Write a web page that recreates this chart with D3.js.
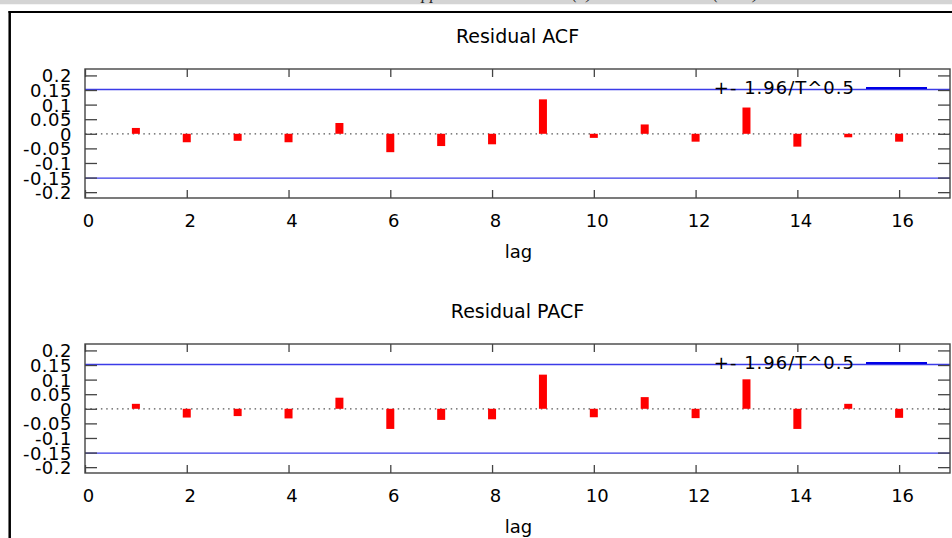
<!DOCTYPE html>
<html>
<head>
<meta charset="utf-8">
<script src="https://cdn.jsdelivr.net/npm/d3@7"></script>
<style>
    body { margin: 0; background: #fff; overflow: hidden; }
    svg { display: block; font-family: "DejaVu Sans", Verdana, sans-serif; }
</style>
</head>
<body>
<div class="chart"></div>
<script>
// Data
const lags = [1, 2, 3, 4, 5, 6, 7, 8, 9, 10, 11, 12, 13, 14, 15, 16];
const acfValues = [0.02, -0.029, -0.024, -0.029, 0.037, -0.063, -0.042, -0.036, 0.118, -0.014, 0.032, -0.027, 0.09, -0.044, -0.012, -0.027];
const pacfValues = [0.017, -0.03, -0.025, -0.033, 0.038, -0.069, -0.038, -0.036, 0.117, -0.029, 0.04, -0.032, 0.101, -0.069, 0.017, -0.031];
const xTicks = [0, 2, 4, 6, 8, 10, 12, 14, 16];
const yTicks = [0.2, 0.15, 0.1, 0.05, 0, -0.05, -0.1, -0.15, -0.2];
const confBand = 0.152;
const legendLabel = '+- 1.96/T^0.5';
const xLabel = 'lag';

// Layout
const W = 952, H = 538;
const plotLeft = 85, plotRight = 950, plotHeight = 129;
const panels = [
    {title: 'Residual ACF', values: acfValues, top: 69},
    {title: 'Residual PACF', values: pacfValues, top: 344}
];
const fontSize = 18;

const svg = d3.select('.chart')
    .append('svg')
    .attr('width', W)
    .attr('height', H);

svg.append('rect').attr('width', W).attr('height', H).attr('fill', '#fff');

// Window chrome: grey strip with the caption cut off above, black frame
svg.append('rect').attr('x', 0).attr('y', 0).attr('width', W).attr('height', 4.5).attr('fill', '#d4d4d4');
const caption = svg.append('g').attr('font-family', '"Liberation Serif", serif').attr('font-style', 'italic')
    .attr('font-size', 17).attr('fill', '#222');
caption.append('text').attr('x', 411).attr('y', -1.5).text('Appendix');
caption.append('text').attr('x', 572).attr('y', -1.5).text('(a)');
caption.append('text').attr('x', 713).attr('y', -1.5).text('(2020)');
svg.append('rect').attr('x', 0).attr('y', 4.5).attr('width', W).attr('height', 6).attr('fill', '#fff');
svg.append('line').attr('x1', 8.5).attr('x2', W).attr('y1', 12).attr('y2', 12)
    .attr('stroke', '#000').attr('stroke-width', 2);
svg.append('line').attr('x1', 9.7).attr('x2', 9.7).attr('y1', 11).attr('y2', H)
    .attr('stroke', '#000').attr('stroke-width', 2.5);

const xScale = d3.scaleLinear().domain([0, 17]).range([plotLeft, plotRight]);
const barWidth = 8;

function drawPanel(p) {
    const yScale = d3.scaleLinear()
        .domain([-0.22, 0.222])
        .range([p.top + plotHeight, p.top]);

    const g = svg.append('g').attr('class', 'panel');

    // Title
    g.append('text')
        .attr('x', (plotLeft + plotRight) / 2)
        .attr('y', p.top - 26)
        .attr('text-anchor', 'middle')
        .attr('font-size', 19)
        .attr('fill', '#000')
        .text(p.title);

    // Confidence lines
    g.selectAll('.band')
        .data([confBand, -confBand])
        .enter()
        .append('line')
        .attr('class', 'band')
        .attr('x1', plotLeft).attr('x2', plotRight)
        .attr('y1', d => yScale(d)).attr('y2', d => yScale(d))
        .attr('stroke', '#3b3be8')
        .attr('stroke-width', 1.4);

    // Zero line
    g.append('line')
        .attr('x1', plotLeft).attr('x2', plotRight)
        .attr('y1', yScale(0)).attr('y2', yScale(0))
        .attr('stroke', '#555')
        .attr('stroke-width', 1.2)
        .attr('stroke-dasharray', '1.5,3.8');

    // Bars
    g.selectAll('.bar')
        .data(lags.map((l, i) => ({lag: l, value: p.values[i]})))
        .enter()
        .append('rect')
        .attr('class', 'bar')
        .attr('x', d => xScale(d.lag) - barWidth / 2)
        .attr('y', d => yScale(Math.max(0, d.value)))
        .attr('width', barWidth)
        .attr('height', d => Math.abs(yScale(d.value) - yScale(0)))
        .attr('fill', '#ff0000');

    // Axes (ticks drawn inward, mirrored on top/right)
    const axisBottom = g.append('g')
        .attr('transform', `translate(0, ${p.top + plotHeight})`)
        .call(d3.axisBottom(xScale).tickValues(xTicks).tickSize(-8).tickPadding(16).tickFormat(d => String(d)));
    const axisTop = g.append('g')
        .attr('transform', `translate(0, ${p.top})`)
        .call(d3.axisTop(xScale).tickValues(xTicks).tickSize(-8).tickFormat(''));
    const axisLeft = g.append('g')
        .attr('transform', `translate(${plotLeft}, 0)`)
        .call(d3.axisLeft(yScale).tickValues(yTicks).tickSize(-12).tickPadding(13).tickFormat(d => String(d)));
    const axisRight = g.append('g')
        .attr('transform', `translate(${plotRight}, 0)`)
        .call(d3.axisRight(yScale).tickValues(yTicks).tickSize(-12).tickFormat(''));

    [axisBottom, axisTop, axisLeft, axisRight].forEach(a => {
        a.select('.domain').remove();
        a.selectAll('line').attr('stroke', '#444').attr('stroke-width', 1.3);
        a.selectAll('text')
            .attr('font-family', '"DejaVu Sans", Verdana, sans-serif')
            .attr('font-size', fontSize)
            .attr('fill', '#000');
    });
    axisLeft.selectAll('text').attr('dy', '0.36em').attr('letter-spacing', 0.5);
    axisBottom.selectAll('text').attr('dx', 3);

    // Frame
    g.append('rect')
        .attr('x', plotLeft).attr('y', p.top)
        .attr('width', plotRight - plotLeft).attr('height', plotHeight)
        .attr('fill', 'none')
        .attr('stroke', '#444')
        .attr('stroke-width', 1.4);

    // x label
    g.append('text')
        .attr('x', (plotLeft + plotRight) / 2 + 1)
        .attr('y', p.top + plotHeight + 60)
        .attr('text-anchor', 'middle')
        .attr('font-size', fontSize)
        .attr('fill', '#000')
        .text(xLabel);

    // Legend
    const legendY = p.top + 19;
    g.append('text')
        .attr('x', 855)
        .attr('y', legendY)
        .attr('dy', '0.36em')
        .attr('text-anchor', 'end')
        .attr('font-size', fontSize)
        .attr('letter-spacing', 1)
        .attr('fill', '#000')
        .text(legendLabel);
    g.append('line')
        .attr('x1', 866).attr('x2', 927)
        .attr('y1', legendY).attr('y2', legendY)
        .attr('stroke', '#0000e6')
        .attr('stroke-width', 1.8);
}

panels.forEach(drawPanel);
</script>
</body>
</html>
